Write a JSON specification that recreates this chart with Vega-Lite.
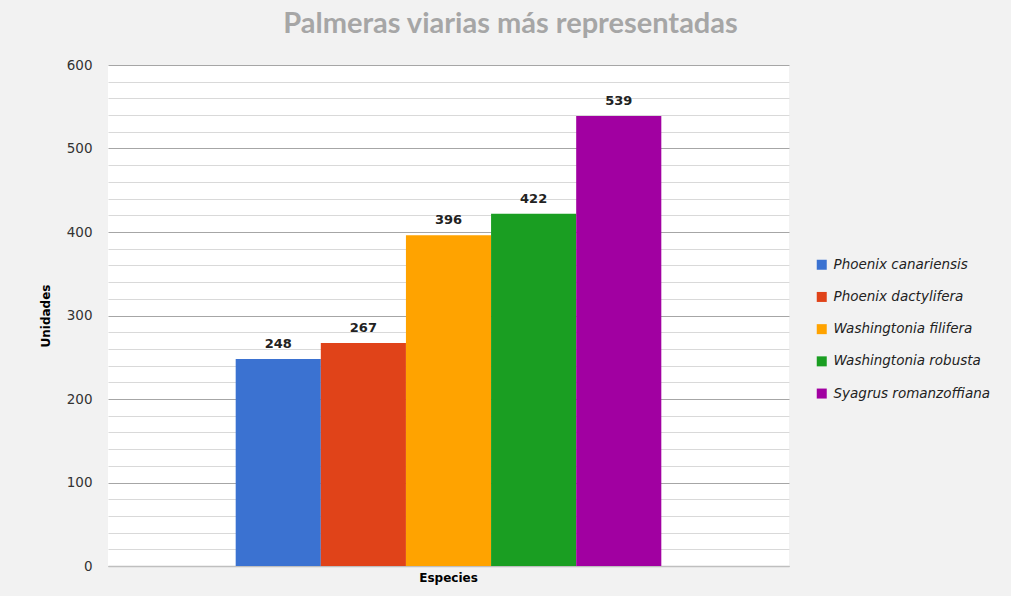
{
  "$schema": "https://vega.github.io/schema/vega-lite/v6.json",
  "autosize": {"type": "none"},
  "padding": {"left": 108, "top": 65, "right": 222, "bottom": 30},
  "width": 681,
  "height": 501,
  "background": "#f2f2f2",
  "title": {
    "text": "Palmeras viarias más representadas",
    "font": "Lato",
    "fontSize": 29,
    "fontWeight": "bold",
    "color": "#a6a6a6",
    "anchor": "middle",
    "dx": 62,
    "offset": 19
  },
  "data": {
    "values": [
      {"grupo": "Especies", "especie": "Phoenix canariensis", "unidades": 248},
      {"grupo": "Especies", "especie": "Phoenix dactylifera", "unidades": 267},
      {"grupo": "Especies", "especie": "Washingtonia filifera", "unidades": 396},
      {"grupo": "Especies", "especie": "Washingtonia robusta", "unidades": 422},
      {"grupo": "Especies", "especie": "Syagrus romanzoffiana", "unidades": 539}
    ]
  },
  "encoding": {
    "x": {
      "field": "grupo",
      "type": "nominal",
      "scale": {"paddingInner": 0, "paddingOuter": 0.3},
      "axis": {
        "title": null,
        "labelAngle": 0,
        "labelFont": "DejaVu Sans",
        "labelFontSize": 12,
        "labelFontWeight": "bold",
        "labelColor": "#000000",
        "labelPadding": 6,
        "ticks": false,
        "domainColor": "#bfbfbf",
        "domainWidth": 1.5
      }
    },
    "xOffset": {
      "field": "especie",
      "type": "nominal",
      "sort": ["Phoenix canariensis", "Phoenix dactylifera", "Washingtonia filifera", "Washingtonia robusta", "Syagrus romanzoffiana"],
      "scale": {"paddingInner": 0, "paddingOuter": 0}
    },
    "y": {
      "field": "unidades",
      "type": "quantitative",
      "scale": {"domain": [0, 600], "nice": false},
      "axis": {
        "title": "Unidades",
        "titleFont": "DejaVu Sans",
        "titleFontSize": 12,
        "titleFontWeight": "bold",
        "titleColor": "#000000",
        "titlePadding": 14,
        "values": [0, 20, 40, 60, 80, 100, 120, 140, 160, 180, 200, 220, 240, 260, 280, 300, 320, 340, 360, 380, 400, 420, 440, 460, 480, 500, 520, 540, 560, 580, 600],
        "labelExpr": "datum.value % 100 === 0 ? datum.label : ''",
        "labelFont": "DejaVu Sans",
        "labelFontSize": 13.5,
        "labelColor": "#333333",
        "labelPadding": 16,
        "ticks": false,
        "domain": false,
        "gridColor": {"condition": {"test": "datum.value % 100 === 0", "value": "#a6a6a6"}, "value": "#d9d9d9"},
        "gridWidth": 1.2
      }
    }
  },
  "layer": [
    {
      "mark": {"type": "bar"},
      "encoding": {
        "color": {
          "field": "especie",
          "type": "nominal",
          "sort": ["Phoenix canariensis", "Phoenix dactylifera", "Washingtonia filifera", "Washingtonia robusta", "Syagrus romanzoffiana"],
          "scale": {
            "domain": ["Phoenix canariensis", "Phoenix dactylifera", "Washingtonia filifera", "Washingtonia robusta", "Syagrus romanzoffiana"],
            "range": ["#3b72d1", "#e04319", "#ffa300", "#1a9e22", "#a100a1"]
          },
          "legend": {
            "title": null,
            "orient": "none",
            "legendX": 707,
            "legendY": 193,
            "symbolType": "square",
            "symbolSize": 100,
            "symbolStrokeWidth": 0,
            "labelFont": "DejaVu Sans",
            "labelFontStyle": "italic",
            "labelFontSize": 13.5,
            "labelColor": "#222222",
            "labelOffset": 5,
            "labelLimit": 300,
            "rowPadding": 17.2
          }
        }
      }
    },
    {
      "mark": {"type": "text", "baseline": "alphabetic", "dy": -11, "font": "DejaVu Sans", "fontSize": 13, "fontWeight": "bold", "color": "#222222"},
      "encoding": {
        "text": {"field": "unidades", "type": "quantitative"}
      }
    }
  ],
  "config": {
    "view": {"fill": "#ffffff", "stroke": null}
  }
}
